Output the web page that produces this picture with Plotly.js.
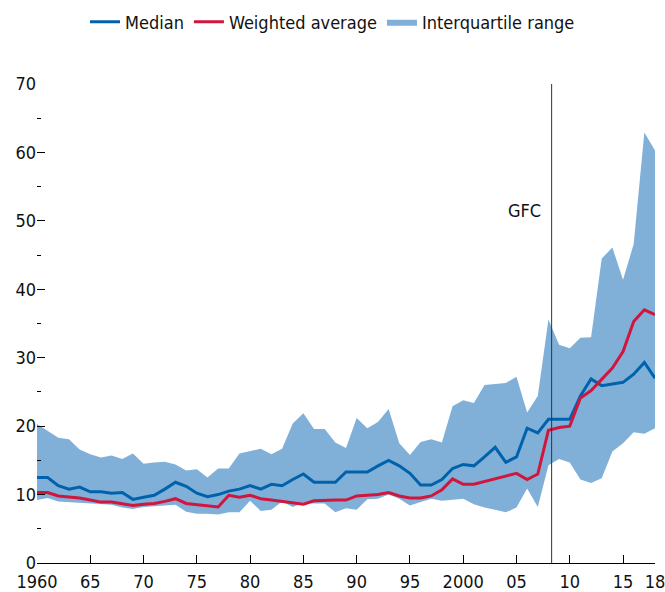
<!DOCTYPE html>
<html>
<head>
<meta charset="utf-8">
<script src="https://cdn.plot.ly/plotly-3.0.1.min.js"></script>
<style>
  html, body { margin: 0; padding: 0; background: #fff; }
  #chart { width: 665px; height: 592px; }
</style>
</head>
<body>
<div id="chart"></div>
<script>
const years = [];
for (let y = 1960; y <= 2018; y++) years.push(y);

const median = [12.5, 12.5, 11.3, 10.8, 11.1, 10.4, 10.4, 10.2, 10.3, 9.3,
  9.6, 9.9, 10.8, 11.8, 11.2, 10.2, 9.7, 10.0, 10.5, 10.8,
  11.3, 10.8, 11.5, 11.3, 12.2, 13.0, 11.8, 11.8, 11.8, 13.3,
  13.3, 13.3, 14.2, 15.0, 14.2, 13.1, 11.4, 11.4, 12.2, 13.8,
  14.4, 14.2, 15.5, 16.9, 14.7, 15.5, 19.7, 19.0, 21.0, 21.0,
  21.0, 24.4, 26.9, 25.9, 26.1, 26.4, 27.6, 29.3, 27.0];

const weightedAvg = [10.3, 10.3, 9.8, 9.7, 9.5, 9.2, 8.9, 8.9, 8.7, 8.4,
  8.6, 8.7, 9.0, 9.4, 8.7, 8.5, 8.4, 8.2, 9.9, 9.6,
  9.9, 9.4, 9.2, 9.0, 8.7, 8.6, 9.1, 9.2, 9.2, 9.2,
  9.8, 9.9, 10.0, 10.3, 9.8, 9.5, 9.5, 9.8, 10.7, 12.3,
  11.5, 11.5, 11.9, 12.3, 12.6, 13.1, 12.2, 13.0, 19.4, 19.8,
  20.0, 24.1, 25.2, 26.8, 28.5, 30.9, 35.3, 37.0, 36.3];

const q75 = [20.3, 19.3, 18.3, 18.1, 16.6, 15.9, 15.4, 15.7, 15.2, 16.0,
  14.5, 14.7, 14.8, 14.4, 13.5, 13.7, 12.5, 13.8, 13.8, 16.0,
  16.3, 16.7, 15.9, 16.7, 20.4, 21.9, 19.6, 19.6, 17.6, 16.8,
  21.2, 19.7, 20.6, 22.5, 17.5, 15.8, 17.7, 18.1, 17.6, 22.9,
  23.8, 23.4, 26.0, 26.2, 26.3, 27.2, 22.0, 24.4, 35.6, 31.9,
  31.4, 32.9, 33.0, 44.5, 46.1, 41.4, 46.6, 62.9, 60.3];

const q25 = [9.2, 9.5, 9.0, 8.9, 8.8, 8.7, 8.5, 8.5, 8.1, 7.9,
  8.2, 8.3, 8.4, 8.5, 7.5, 7.2, 7.2, 7.1, 7.4, 7.4,
  9.1, 7.6, 7.8, 9.0, 8.2, 8.8, 8.7, 8.7, 7.4, 8.0,
  7.8, 9.3, 9.4, 10.0, 9.4, 8.4, 8.9, 9.4, 9.1, 9.3,
  9.4, 8.6, 8.1, 7.8, 7.4, 8.1, 10.9, 8.2, 14.3, 15.2,
  14.7, 12.2, 11.7, 12.4, 16.3, 17.5, 19.1, 18.9, 19.7];

const xTickVals = [1960, 1965, 1970, 1975, 1980, 1985, 1990, 1995, 2000, 2005, 2010, 2015, 2018];
const xTickText = ['1960', '65', '70', '75', '80', '85', '90', '95', '2000', '05', '10', '15', '18'];
const yRange = [0, 70];
const gfcYear = 2008.3;
const gfcLabelY = 51.5;

const FONT = 'DejaVu Sans Condensed, Liberation Sans Narrow, Arial Narrow, sans-serif';
const FS = 18;
const BLUE = '#0062ac';
const RED = '#d0163c';
const BAND = '#80b0d8';

const traces = [
  { x: years, y: q25, mode: 'lines', line: { width: 0, color: BAND },
    showlegend: false, hoverinfo: 'skip' },
  { x: years, y: q75, mode: 'lines', fill: 'tonexty', fillcolor: BAND,
    line: { width: 0, color: BAND }, name: 'Interquartile range', legendrank: 3 },
  { x: years, y: median, mode: 'lines', line: { width: 3, color: BLUE },
    name: 'Median', legendrank: 1 },
  { x: years, y: weightedAvg, mode: 'lines', line: { width: 3, color: RED },
    name: 'Weighted average', legendrank: 2 }
];

const yTickCommon = {
  range: yRange, tickmode: 'linear', tick0: 0, dtick: 10,
  ticks: 'inside', ticklen: 8, tickcolor: '#000', tickwidth: 1,
  minor: { dtick: 5, ticks: 'inside', ticklen: 4, tickcolor: '#000', tickwidth: 1, showgrid: false },
  showline: false, showgrid: false, zeroline: false
};

const layout = {
  width: 665, height: 592,
  margin: { l: 37, r: 10, t: 84, b: 29 },
  paper_bgcolor: '#fff', plot_bgcolor: '#fff',
  font: { family: FONT, size: FS, color: '#111' },
  showlegend: true,
  legend: {
    orientation: 'h', xref: 'container', yref: 'container', traceorder: 'normal',
    x: 0.5, xanchor: 'center', y: 1 - 22 / 592, yanchor: 'middle',
    font: { family: FONT, size: FS, color: '#111' },
    itemwidth: 30, tracegroupgap: 0
  },
  xaxis: {
    range: [1960, 2018], tickmode: 'array', tickvals: xTickVals, ticktext: xTickText,
    ticks: 'inside', ticklen: 8, tickcolor: '#000', tickwidth: 1,
    showline: true, linecolor: '#000', linewidth: 1,
    showgrid: false, zeroline: false, ticklabeloverflow: 'allow', ticklabelstandoff: 2,
    tickfont: { family: FONT, size: FS, color: '#111' }
  },
  yaxis: Object.assign({}, yTickCommon, {
    ticklabeloverflow: 'allow',
    tickfont: { family: FONT, size: FS, color: '#111' }
  }),
  yaxis2: Object.assign({}, yTickCommon, {
    overlaying: 'y', side: 'right', anchor: 'x', showticklabels: false
  }),
  shapes: [
    { type: 'line', xref: 'x', yref: 'y', x0: gfcYear, x1: gfcYear, y0: yRange[0], y1: yRange[1],
      line: { color: '#333', width: 1 } }
  ],
  annotations: [
    { x: gfcYear, y: gfcLabelY, xref: 'x', yref: 'y', text: 'GFC', showarrow: false,
      xanchor: 'right', yanchor: 'middle', xshift: -9,
      font: { family: FONT, size: FS, color: '#111' } }
  ]
};

Plotly.newPlot('chart', traces, layout, { displayModeBar: false, staticPlot: true });
</script>
</body>
</html>
